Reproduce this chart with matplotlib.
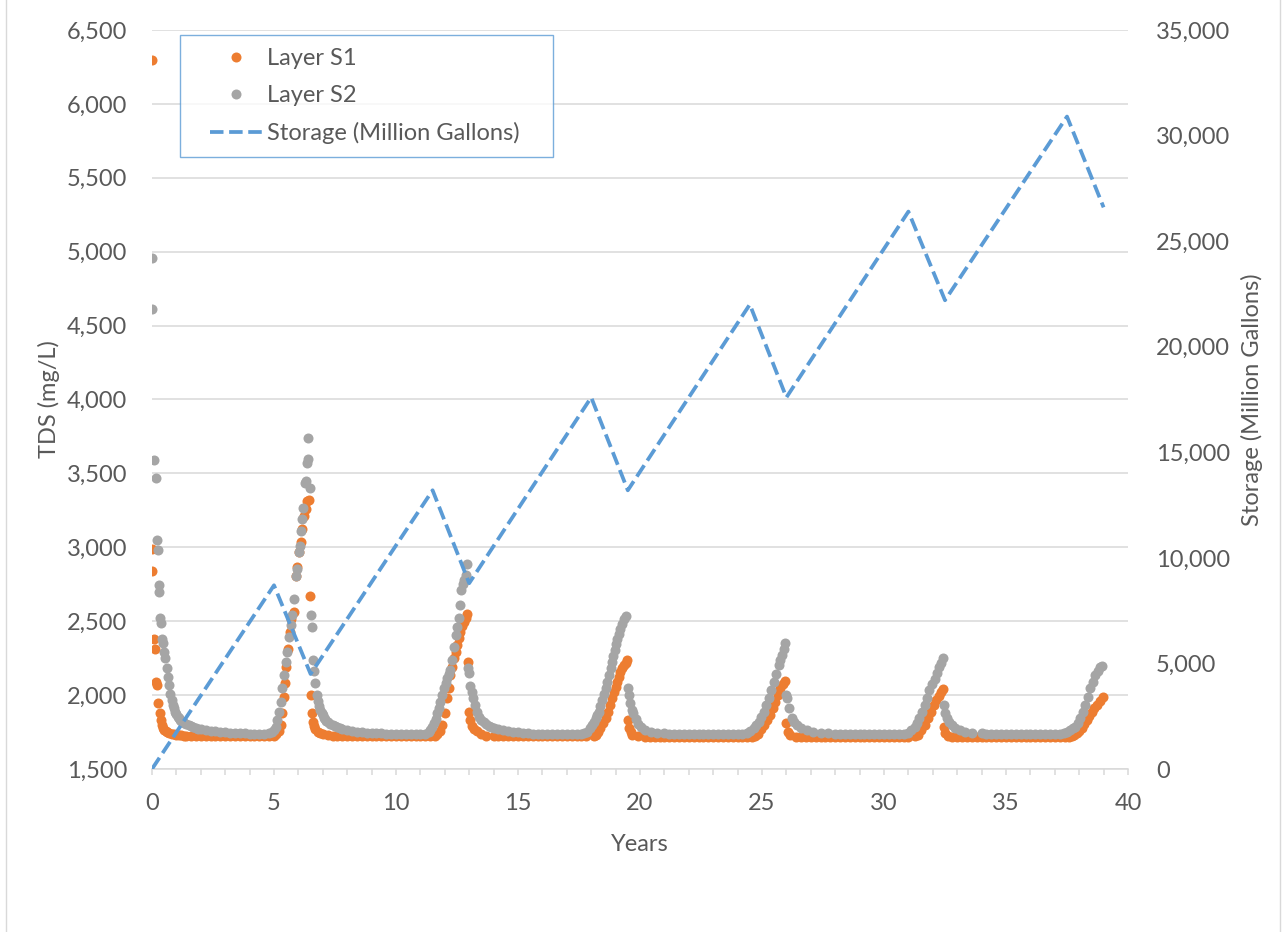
import matplotlib
matplotlib.use("Agg")
import matplotlib.pyplot as plt
from matplotlib.ticker import FuncFormatter, MultipleLocator
from matplotlib.lines import Line2D
from matplotlib.legend_handler import HandlerLine2D

# ---------------- data ----------------
# Layer S1 (orange) : years / TDS mg/L
s1_t = [0.00, 0.00, 0.02, 0.07, 0.12, 0.18, 0.21, 0.26, 0.31, 0.36, 0.41, 0.46, 0.51, 0.56, 0.61, 0.70, 0.80, 0.90, 1.00, 1.10, 1.20, 1.30, 1.40, 1.60, 1.80, 2.00,
        2.2, 2.4, 2.6, 2.8, 3.0, 3.2, 3.4, 3.6, 3.8, 4.0, 4.2, 4.4, 4.6, 4.8, 5.0,
        5.10, 5.20, 5.27, 5.34, 5.41, 5.45, 5.50, 5.59, 5.66, 5.70, 5.80, 5.90, 5.96, 6.03, 6.10, 6.16, 6.23, 6.30, 6.37, 6.44,
        6.48, 6.52, 6.56, 6.60, 6.65, 6.70, 6.80, 6.90, 7.00, 7.20, 7.40, 7.60, 7.80,
        8.0, 8.2, 8.4, 8.6, 8.8, 9.0, 9.2, 9.4, 9.6, 9.8, 10.0, 10.2, 10.4, 10.6, 10.8, 11.0, 11.2, 11.4,
        11.60, 11.70, 11.80, 11.90, 12.00, 12.10, 12.16, 12.23, 12.30, 12.37, 12.44, 12.50, 12.57, 12.64, 12.71, 12.78, 12.85, 12.92,
        12.94, 13.00, 13.05, 13.12, 13.19, 13.30, 13.47, 13.70, 14.00,
        14.2, 14.4, 14.6, 14.8, 15.0, 15.2, 15.4, 15.6, 15.8, 16.0, 16.2, 16.4, 16.6, 16.8, 17.0, 17.2, 17.4, 17.6, 17.8,
        18.10, 18.18, 18.28, 18.38, 18.48, 18.59, 18.69, 18.79, 18.86, 18.93, 19.00, 19.07, 19.14, 19.20, 19.27, 19.34, 19.41, 19.48,
        19.49, 19.55, 19.62, 19.68, 19.90,
        20.2, 20.4, 20.6, 20.8, 21.0, 21.2, 21.4, 21.6, 21.8, 22.0, 22.2, 22.4, 22.6, 22.8, 23.0, 23.2, 23.4, 23.6, 23.8, 24.0, 24.2, 24.4, 24.6,
        24.70, 24.85, 24.96, 25.07, 25.20, 25.34, 25.45, 25.55, 25.65, 25.75, 25.85, 25.95,
        25.97, 26.05, 26.15, 26.40,
        26.6, 26.8, 27.0, 27.2, 27.4, 27.6, 27.8, 28.0, 28.2, 28.4, 28.6, 28.8, 29.0, 29.2, 29.4, 29.6, 29.8, 30.0, 30.2, 30.4, 30.6, 30.8, 31.0,
        31.25, 31.38, 31.52, 31.66, 31.80, 31.93, 32.04, 32.14, 32.24, 32.34, 32.42,
        32.44, 32.50, 32.62, 32.80,
        33.0, 33.2, 33.4, 33.6, 33.8, 34.0, 34.2, 34.4, 34.6, 34.8, 35.0, 35.2, 35.4, 35.6, 35.8, 36.0, 36.2, 36.4, 36.6, 36.8, 37.0, 37.2, 37.4, 37.6,
        37.70, 37.80, 37.90, 38.00, 38.11, 38.21, 38.32, 38.42, 38.52, 38.62, 38.73, 38.85, 38.97]
s1_v = [6300, 2990, 2840, 2377, 2314, 2090, 2067, 1944, 1877, 1830, 1800, 1780, 1766, 1758, 1750, 1744, 1739, 1735, 1732, 1729, 1727, 1725, 1724, 1722, 1721, 1720,
        1720, 1720, 1720, 1720, 1720, 1720, 1720, 1720, 1720, 1720, 1720, 1720, 1720, 1720, 1722,
        1735, 1760, 1800, 1880, 1990, 2079, 2190, 2314, 2427, 2516, 2561, 2808, 2865, 2965, 3033, 3123, 3212, 3257, 3313, 3320,
        2670, 2000, 1877, 1820, 1790, 1770, 1753, 1743, 1737, 1730, 1726, 1724, 1722,
        1720, 1720, 1720, 1720, 1720, 1720, 1720, 1720, 1720, 1720, 1720, 1720, 1720, 1720, 1720, 1720, 1720, 1720,
        1725, 1735, 1760, 1800, 1880, 1980, 2050, 2135, 2190, 2248, 2290, 2338, 2385, 2429, 2465, 2497, 2525, 2550,
        2225, 1887, 1831, 1790, 1774, 1755, 1735, 1726, 1722,
        1720, 1720, 1720, 1720, 1720, 1720, 1720, 1720, 1720, 1720, 1720, 1720, 1720, 1720, 1720, 1720, 1720, 1720, 1720,
        1722, 1731, 1752, 1776, 1808, 1843, 1885, 1933, 1978, 2022, 2058, 2090, 2125, 2157, 2180, 2202, 2220, 2235,
        1832, 1776, 1750, 1731, 1722,
        1718, 1718, 1718, 1718, 1718, 1718, 1718, 1718, 1718, 1718, 1718, 1718, 1718, 1718, 1718, 1718, 1718, 1718, 1718, 1718, 1718, 1718, 1718,
        1720, 1740, 1768, 1798, 1830, 1865, 1910, 1955, 2000, 2045, 2075, 2095,
        1810, 1753, 1730, 1718,
        1716, 1716, 1716, 1716, 1716, 1716, 1716, 1716, 1716, 1716, 1716, 1716, 1716, 1716, 1716, 1716, 1716, 1716, 1716, 1716, 1716, 1716, 1716,
        1720, 1731, 1762, 1798, 1842, 1888, 1930, 1966, 1995, 2022, 2040,
        1787, 1742, 1725, 1718,
        1716, 1716, 1716, 1716, 1716, 1716, 1716, 1716, 1716, 1716, 1716, 1716, 1716, 1716, 1716, 1716, 1716, 1716, 1716, 1716, 1716, 1716, 1716, 1716,
        1722, 1732, 1742, 1758, 1776, 1804, 1832, 1860, 1888, 1910, 1933, 1962, 1990]

# Layer S2 (grey) : years / TDS mg/L
s2_t = [0.00, 0.01, 0.10, 0.16, 0.20, 0.23, 0.27, 0.30, 0.34, 0.37, 0.41, 0.45, 0.50, 0.55, 0.60, 0.65, 0.70, 0.75, 0.80, 0.85, 0.90, 0.95, 1.00, 1.05, 1.10, 1.15, 1.20, 1.25, 1.30, 1.40, 1.50, 1.60, 1.70, 1.80, 1.90, 2.00,
        2.2, 2.4, 2.6, 2.8, 3.0, 3.2, 3.4, 3.6, 3.8, 4.0, 4.2, 4.4, 4.6, 4.8, 4.9,
        5.00, 5.07, 5.14, 5.20, 5.27, 5.34, 5.41, 5.48, 5.55, 5.62, 5.68, 5.75, 5.82, 5.89, 5.96, 6.03, 6.07, 6.12, 6.16, 6.20, 6.26, 6.30, 6.34, 6.38, 6.41, 6.46,
        6.52, 6.54, 6.60, 6.64, 6.68, 6.75, 6.80, 6.85, 6.90, 6.95, 7.00, 7.05, 7.10, 7.15, 7.20, 7.30, 7.40, 7.50, 7.60, 7.70, 7.80, 8.00, 8.20, 8.40, 8.60, 8.80, 9.00, 9.20, 9.40,
        9.6, 9.8, 10.0, 10.2, 10.4, 10.6, 10.8, 11.0, 11.2,
        11.34, 11.41, 11.48, 11.55, 11.62, 11.68, 11.75, 11.82, 11.89, 11.96, 12.03, 12.10, 12.16, 12.23, 12.30, 12.37, 12.44, 12.51, 12.58, 12.64, 12.68, 12.73, 12.78, 12.85, 12.90,
        12.96, 13.00, 13.05, 13.10, 13.15, 13.22, 13.30, 13.40, 13.50, 13.60, 13.70, 13.80, 13.90, 14.00, 14.20, 14.40, 14.60, 14.80, 15.00, 15.20, 15.40,
        15.6, 15.8, 16.0, 16.2, 16.4, 16.6, 16.8, 17.0, 17.2, 17.4, 17.6,
        17.70, 17.84, 17.94, 18.04, 18.11, 18.18, 18.25, 18.32, 18.38, 18.45, 18.52, 18.59, 18.66, 18.73, 18.80, 18.86, 18.91, 18.96, 19.02, 19.07, 19.12, 19.18, 19.27, 19.34, 19.41,
        19.50, 19.54, 19.60, 19.66, 19.72, 19.82, 19.92, 20.03, 20.20, 20.44, 20.70, 21.00,
        21.2, 21.4, 21.6, 21.8, 22.0, 22.2, 22.4, 22.6, 22.8, 23.0, 23.2, 23.4, 23.6, 23.8, 24.0,
        24.20, 24.38, 24.52, 24.66, 24.76, 24.86, 24.96, 25.07, 25.17, 25.27, 25.38, 25.48, 25.58, 25.68, 25.75, 25.82, 25.89, 25.95,
        26.00, 26.03, 26.10, 26.23, 26.33, 26.44, 26.60, 26.85, 27.10, 27.40, 27.70,
        28.0, 28.2, 28.4, 28.6, 28.8, 29.0, 29.2, 29.4, 29.6, 29.8, 30.0, 30.2, 30.4, 30.6, 30.8,
        31.00, 31.12, 31.25, 31.35, 31.45, 31.55, 31.66, 31.76, 31.86, 31.96, 32.07, 32.17, 32.27, 32.34, 32.40,
        32.45, 32.52, 32.60, 32.68, 32.78, 32.89, 33.10, 33.30, 33.60, 34.00,
        34.2, 34.4, 34.6, 34.8, 35.0, 35.2, 35.4, 35.6, 35.8, 36.0, 36.2, 36.4, 36.6, 36.8, 37.0, 37.2,
        37.36, 37.50, 37.63, 37.74, 37.84, 37.94, 38.04, 38.14, 38.25, 38.35, 38.45, 38.55, 38.66, 38.76, 38.86, 38.92]
s2_v = [4960, 4610, 3590, 3470, 3050, 2980, 2745, 2700, 2520, 2490, 2377, 2350, 2290, 2250, 2180, 2120, 2065, 2010, 1970, 1935, 1910, 1888, 1870, 1855, 1843, 1833, 1825, 1818, 1812, 1803, 1796, 1789, 1783, 1778, 1774, 1770,
        1764, 1758, 1754, 1750, 1748, 1746, 1744, 1742, 1741, 1740, 1740, 1740, 1740, 1741, 1748,
        1764, 1787, 1832, 1888, 1955, 2045, 2135, 2225, 2292, 2393, 2471, 2539, 2651, 2808, 2853, 2965, 3010, 3111, 3190, 3268, 3437, 3448, 3572, 3598, 3740, 3403,
        2545, 2460, 2240, 2160, 2080, 2000, 1960, 1925, 1900, 1880, 1862, 1848, 1836, 1826, 1818, 1806, 1796, 1788, 1781, 1775, 1770, 1763, 1757, 1752, 1749, 1746, 1744, 1742, 1741,
        1740, 1740, 1740, 1740, 1740, 1740, 1740, 1740, 1740,
        1750, 1763, 1785, 1808, 1840, 1876, 1915, 1955, 2000, 2045, 2080, 2113, 2140, 2169, 2237, 2327, 2406, 2460, 2519, 2609, 2711, 2750, 2779, 2812, 2885,
        2180, 2147, 2060, 2023, 1977, 1930, 1887, 1855, 1831, 1815, 1802, 1792, 1785, 1779, 1770, 1762, 1756, 1751, 1747, 1744, 1742,
        1740, 1740, 1740, 1740, 1740, 1740, 1740, 1740, 1740, 1740, 1740,
        1742, 1753, 1775, 1798, 1820, 1843, 1865, 1888, 1925, 1966, 2005, 2045, 2090, 2135, 2180, 2224, 2265, 2303, 2345, 2381, 2415, 2448, 2482, 2516, 2535,
        2045, 2000, 1944, 1900, 1877, 1840, 1805, 1782, 1765, 1752, 1745, 1742,
        1740, 1740, 1740, 1740, 1740, 1740, 1740, 1740, 1740, 1740, 1740, 1740, 1740, 1740, 1740,
        1740, 1742, 1758, 1776, 1798, 1821, 1852, 1888, 1930, 1978, 2033, 2090, 2146, 2202, 2235, 2269, 2310, 2355,
        2000, 1978, 1910, 1843, 1815, 1798, 1780, 1765, 1752, 1745, 1742,
        1740, 1740, 1740, 1740, 1740, 1740, 1740, 1740, 1740, 1740, 1740, 1740, 1740, 1740, 1740,
        1745, 1765, 1787, 1812, 1843, 1885, 1933, 1983, 2034, 2075, 2112, 2150, 2191, 2220, 2248,
        1933, 1877, 1845, 1821, 1800, 1780, 1762, 1752, 1745, 1741,
        1740, 1740, 1740, 1740, 1740, 1740, 1740, 1740, 1740, 1740, 1740, 1740, 1740, 1740, 1740, 1740,
        1742, 1750, 1764, 1775, 1787, 1812, 1843, 1885, 1933, 1990, 2045, 2090, 2135, 2165, 2191, 2195]

# Storage (Million Gallons) : years / volume
stor_t = [0.0, 5.0, 6.5, 11.5, 13.0, 18.0, 19.5, 24.5, 26.0, 31.0, 32.5, 37.5, 39.0]
stor_v = [0, 8700, 4500, 13200, 8800, 17600, 13200, 22000, 17600, 26400, 22200, 30900, 26600]

labels = ["Layer S1", "Layer S2", "Storage (Million Gallons)"]

# ---------------- style ----------------
ORANGE = "#ED7D31"
GREY = "#A5A5A5"
BLUE = "#5B9BD5"
TXT = "#595959"
GRID = "#D9D9D9"
FONT = ["Lato", "DejaVu Sans"]
FS = 17
MS = 52          # scatter marker area (pt^2)
DASH = (3.6, 1.5)
LW = 2.7

plt.rcParams["font.family"] = FONT

W, H = 1286, 932
fig = plt.figure(figsize=(W / 100, H / 100), dpi=100)
L, R, T, B = 152, 1128, 30, 769
ax = fig.add_axes([L / W, 1 - B / H, (R - L) / W, (B - T) / H])

ax.scatter(s1_t, s1_v, s=MS, color=ORANGE, linewidths=0, zorder=3)
ax.scatter(s2_t, s2_v, s=MS, color=GREY, linewidths=0, zorder=4)

ax.set_xlim(0, 40)
ax.set_ylim(1500, 6500)
ax.xaxis.set_major_locator(MultipleLocator(5))
ax.xaxis.set_minor_locator(MultipleLocator(1))
ax.yaxis.set_major_locator(MultipleLocator(500))
ax.yaxis.set_major_formatter(FuncFormatter(lambda v, p: f"{int(v):,}"))
ax.grid(axis="y", color=GRID, linewidth=1.1, zorder=0)
ax.set_axisbelow(True)
for s in ["top", "left", "right"]:
    ax.spines[s].set_visible(False)
ax.spines["bottom"].set_color(GRID)
ax.spines["bottom"].set_linewidth(1.1)
ax.tick_params(axis="x", which="both", direction="out", length=4, width=1.1, color=GRID,
               labelsize=FS, labelcolor=TXT, pad=13)
ax.tick_params(axis="y", length=0, labelsize=FS, labelcolor=TXT, pad=18)
ax.set_xlabel("Years", fontsize=FS, color=TXT, labelpad=15)
ax.set_ylabel("TDS (mg/L)", fontsize=FS, color=TXT, labelpad=5)

ax2 = ax.twinx()
ax2.plot(stor_t, stor_v, color=BLUE, linewidth=LW, dashes=DASH, zorder=5)
ax2.set_ylim(0, 35000)
ax2.yaxis.set_major_locator(MultipleLocator(5000))
ax2.yaxis.set_major_formatter(FuncFormatter(lambda v, p: f"{int(v):,}"))
for s in ["top", "left", "right", "bottom"]:
    ax2.spines[s].set_visible(False)
ax2.tick_params(axis="y", length=0, labelsize=FS, labelcolor=TXT, pad=20)
ax2.set_ylabel("Storage (Million Gallons)", fontsize=FS, color=TXT, labelpad=8)

handles = [
    Line2D([], [], linestyle="none", marker="o", markersize=7.2, markeredgewidth=0, color=ORANGE),
    Line2D([], [], linestyle="none", marker="o", markersize=7.2, markeredgewidth=0, color=GREY),
    Line2D([], [], color=BLUE, linewidth=LW, dashes=DASH),
]
x0 = (180 - L) / (R - L)
y1 = (B - 35) / (B - T)
y0 = (B - 152) / (B - T)
w = (553 - 180) / (R - L)
hm = {h: HandlerLine2D(xpad=0.72) for h in handles}
leg = ax2.legend(handles, labels, loc="upper left", mode="expand",
                 bbox_to_anchor=(x0, y0, w, y1 - y0),
                 borderaxespad=0, frameon=True, fancybox=False, fontsize=FS,
                 labelcolor=TXT, handlelength=2.94, handletextpad=0.2,
                 labelspacing=0.68, borderpad=0.55, handler_map=hm)
leg.get_frame().set_edgecolor(BLUE)
leg.get_frame().set_linewidth(1.0)
leg.set_zorder(10)

fig.patches.append(plt.Rectangle((6 / W, -0.01), (W - 12) / W, 1.02, transform=fig.transFigure,
                                 fill=False, edgecolor=GRID, linewidth=1.0))

fig.savefig("out.png", dpi=100, facecolor="white")
